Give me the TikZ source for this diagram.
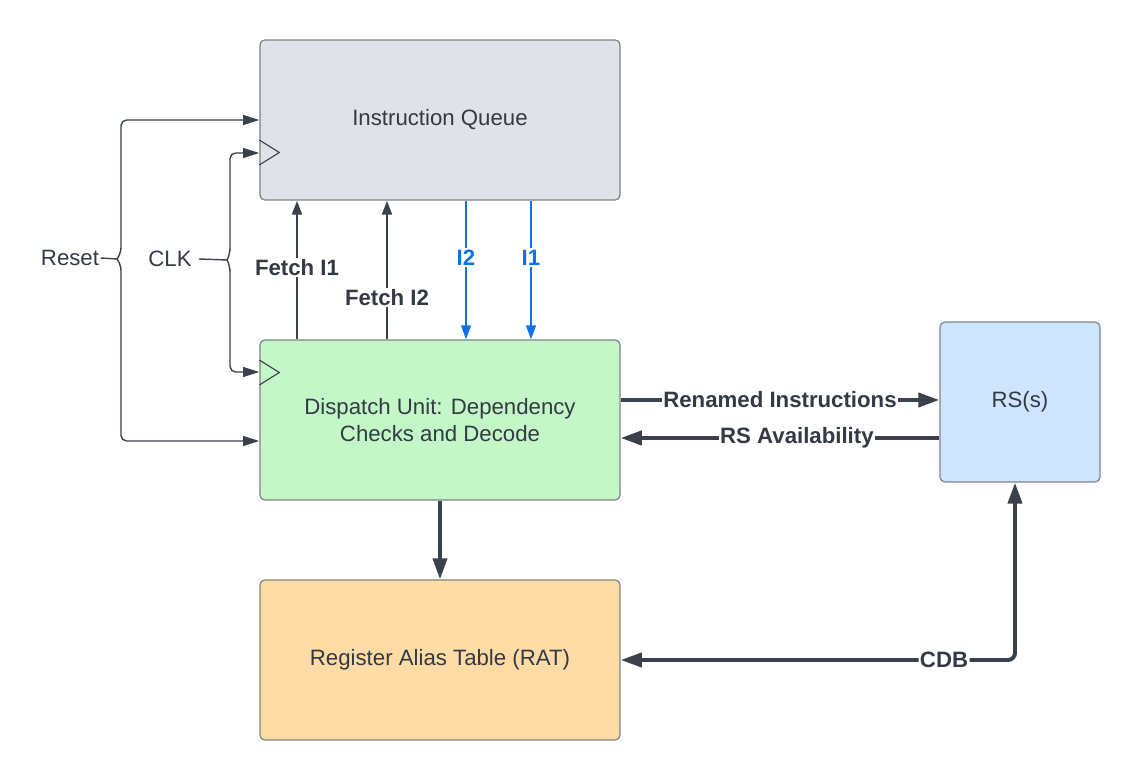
\documentclass[tikz,border=0pt]{standalone}
\usepackage{fontspec}
\setmainfont{Liberation Sans}
\usetikzlibrary{arrows.meta, positioning, calc}
\definecolor{lineDark}{HTML}{3A414A}
\definecolor{textDark}{HTML}{333A44}
\definecolor{boxBorder}{HTML}{80858C}
\definecolor{iqFill}{HTML}{DFE2E6}
\definecolor{duFill}{HTML}{C3F7C8}
\definecolor{ratFill}{HTML}{FFDBA6}
\definecolor{rsFill}{HTML}{CFE4FF}
\definecolor{wireBlue}{HTML}{1071E5}

\tikzset{
    blk/.style={draw=boxBorder, line width=0.9pt, rounded corners=3.5pt, minimum width=9cm, minimum height=4cm, text=textDark, align=center, font=\fontsize{15.8}{19}\selectfont},
    thinwire/.style={draw=lineDark, line width=1pt, -{Triangle[length=11.5pt, width=7pt]}},
    fetchwire/.style={draw=lineDark, line width=1.8pt, -{Triangle[length=10pt, width=7pt]}},
    bluewire/.style={draw=wireBlue, line width=1.4pt, -{Triangle[length=10pt, width=7pt]}},
    bus/.style={draw=lineDark, line width=2.8pt, -{Triangle[length=15pt, width=10pt]}},
    lbl/.style={fill=white, inner sep=1pt, text=textDark, font=\fontsize{15.8}{19}\selectfont\bfseries},
    sig/.style={inner sep=1pt, text=textDark, font=\fontsize{15.8}{19}\selectfont}
}

\begin{document}
\begin{tikzpicture}[x=0.025cm, y=-0.025cm]
    \useasboundingbox (0,0) rectangle (1140,780);

    % Blocks
    \node[blk, fill=iqFill] (iq) at (440,120) {Instruction Queue};
    \node[blk, fill=duFill] (du) at (440,420) {Dispatch Unit: Dependency\\Checks and Decode};
    \node[blk, fill=ratFill] (rat) at (440,660) {Register Alias Table (RAT)};
    \node[blk, fill=rsFill, minimum width=4cm] (rs) at (1020,402) {RS(s)};

    % Clock inputs
    \draw[lineDark, line width=0.8pt] (iq.west |- {(0,140)}) -- ++(20,12.5) -- ++(-20,12.5);
    \draw[lineDark, line width=0.8pt] (du.west |- {(0,360)}) -- ++(20,12.5) -- ++(-20,12.5);

    % Reset
    \node[sig] (reset) at (70,258) {Reset};
    \coordinate (rcusp) at (117,259);
    \draw[lineDark, line width=1pt] (reset.east) -- (rcusp);
    \draw[thinwire, rounded corners=4pt] (rcusp) -- (121,253) -- (121,120) -- (iq.west |- {(0,120)});
    \draw[thinwire, rounded corners=4pt] (rcusp) -- (121,265) -- (121,441) -- (du.west |- {(0,441)});

    % CLK
    \node[sig, inner xsep=5pt] (clk) at (170,259) {CLK};
    \coordinate (ccusp) at (227,260);
    \draw[lineDark, line width=1pt] (clk.east) -- (ccusp);
    \draw[thinwire, rounded corners=4pt] (ccusp) -- (230,254) -- (230,153) -- (iq.west |- {(0,153)});
    \draw[thinwire, rounded corners=4pt] (ccusp) -- (230,266) -- (230,372) -- (du.west |- {(0,372)});

    % Fetch requests
    \draw[fetchwire] (du.north -| {(297,0)}) -- node[lbl, pos=0.52] {Fetch I1} (iq.south -| {(297,0)});
    \draw[fetchwire] (du.north -| {(387,0)}) -- node[lbl, pos=0.3] {Fetch I2} (iq.south -| {(387,0)});

    % Instructions out of the queue
    \draw[bluewire] (iq.south -| {(466,0)}) -- node[lbl, pos=0.41, text=wireBlue] {I2} (du.north -| {(466,0)});
    \draw[bluewire] (iq.south -| {(531,0)}) -- node[lbl, pos=0.41, text=wireBlue] {I1} (du.north -| {(531,0)});

    % Dispatch <-> RS
    \draw[bus] (du.east |- {(0,400)}) -- node[lbl, midway] {Renamed Instructions} (rs.west |- {(0,400)});
    \draw[bus] (rs.west |- {(0,438)}) -- node[lbl, pos=0.447] {RS Availability} (du.east |- {(0,438)});

    % Dispatch -> RAT
    \draw[bus] (du.south) -- (rat.north);

    % CDB
    \draw[bus, {Triangle[length=15pt, width=10pt]}-{Triangle[length=15pt, width=10pt]}, rounded corners=5pt] (rat.east) -- node[lbl, pos=0.82] {CDB} (rat.east -| {(1015,0)}) -- (rs.south -| {(1015,0)});
\end{tikzpicture}
\end{document}
